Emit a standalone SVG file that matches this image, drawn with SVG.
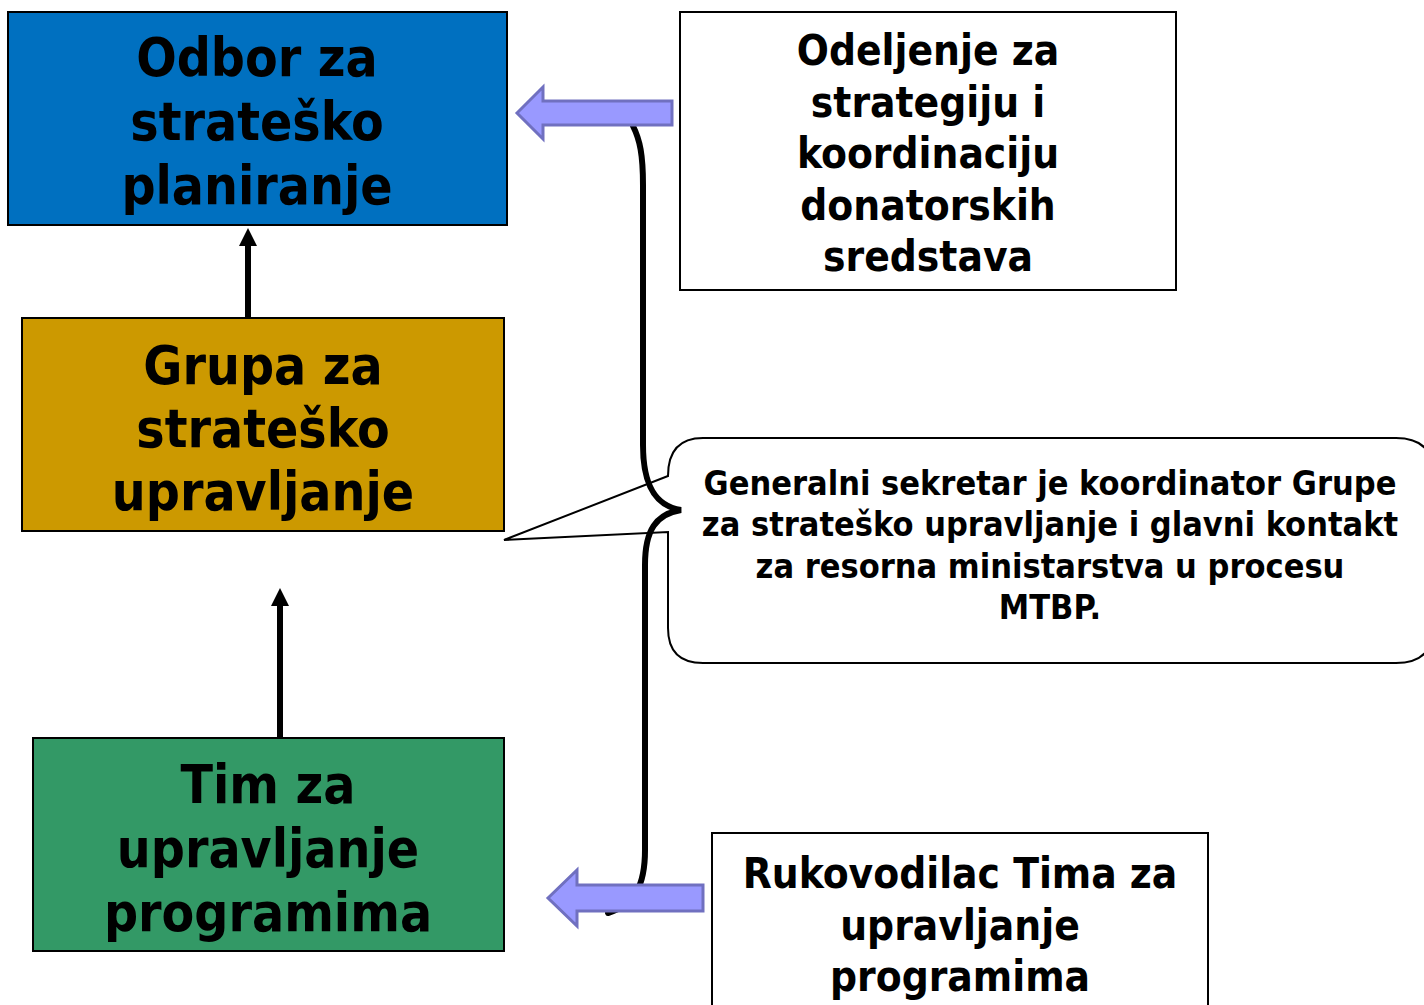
<svg xmlns="http://www.w3.org/2000/svg" width="1424" height="1005" viewBox="0 0 1424 1005">
<defs>
<style>
.t{font-family:"DejaVu Sans Condensed","DejaVu Sans",sans-serif;font-weight:bold;fill:#000;text-anchor:middle}
.big{font-size:53px}
.mid{font-size:42px}
.sm{font-size:34px}
.box{stroke:#000;stroke-width:2}
.blk{fill:#9999FF;stroke:#7070C0;stroke-width:3;stroke-linejoin:miter}
.up{stroke:#000;stroke-width:6;fill:none}
</style>
<marker id="ah" viewBox="0 0 18 18" markerWidth="18" markerHeight="18" refX="0" refY="9" markerUnits="userSpaceOnUse" orient="auto">
<path d="M0,0 L18,9 L0,18 Z" fill="#000"/>
</marker>
</defs>
<rect width="1424" height="1005" fill="#fff"/>
<g id="odbor">
<rect class="box" x="8" y="12" width="499" height="213" fill="#0070C0"/>
<text class="t big" x="257" y="76">Odbor za</text>
<text class="t big" x="257" y="140">strateško</text>
<text class="t big" x="257" y="204">planiranje</text>
</g>
<g id="grupa">
<rect class="box" x="22" y="318" width="482" height="213" fill="#CC9900"/>
<text class="t big" x="263" y="384">Grupa za</text>
<text class="t big" x="263" y="447">strateško</text>
<text class="t big" x="263" y="510">upravljanje</text>
</g>
<g id="tim">
<rect class="box" x="33" y="738" width="471" height="213" fill="#339966"/>
<text class="t big" x="268" y="803">Tim za</text>
<text class="t big" x="268" y="867">upravljanje</text>
<text class="t big" x="268" y="931">programima</text>
</g>
<g id="odeljenje">
<rect class="box" x="680" y="12" width="496" height="278" fill="#fff"/>
<text class="t mid" x="928" y="65">Odeljenje za</text>
<text class="t mid" x="928" y="117">strategiju i</text>
<text class="t mid" x="928" y="168">koordinaciju</text>
<text class="t mid" x="928" y="220">donatorskih</text>
<text class="t mid" x="928" y="271">sredstava</text>
</g>
<g id="rukovodilac">
<rect class="box" x="712" y="833" width="496" height="190" fill="#fff"/>
<text class="t mid" x="960" y="888">Rukovodilac Tima za</text>
<text class="t mid" x="960" y="940">upravljanje</text>
<text class="t mid" x="960" y="991">programima</text>
</g>
<g id="callout">
<path d="M703,438 L1396,438 Q1434,438 1434,476 L1434,625 Q1434,663 1396,663 L703,663 Q668,663 668,628 L668,532 L504,540 L668,476 Q668,438 703,438 Z" fill="#fff" stroke="#000" stroke-width="2"/>
<text class="t sm" x="1050" y="495">Generalni sekretar je koordinator Grupe</text>
<text class="t sm" x="1050" y="536">za strateško upravljanje i glavni kontakt</text>
<text class="t sm" x="1050" y="578">za resorna ministarstva u procesu</text>
<text class="t sm" x="1050" y="619">MTBP.</text>
</g>
<g id="connectors">
<path d="M633,126 C640,140 643,155 643,185 L643,445 C643,485 655,506 681,510 C656,514 645,530 645,565 L645,850 C645,885 635,905 608,913" fill="none" stroke="#000" stroke-width="6" stroke-linecap="round"/>
<polygon class="blk" points="517,113 543,87 543,101 672,101 672,125 543,125 543,139"/>
<polygon class="blk" points="548,898 577,870 577,885 703,885 703,911 577,911 577,926"/>
<line class="up" x1="248" y1="318" x2="248" y2="246" marker-end="url(#ah)"/>
<line class="up" x1="280" y1="738" x2="280" y2="606" marker-end="url(#ah)"/>
</g>
</svg>
